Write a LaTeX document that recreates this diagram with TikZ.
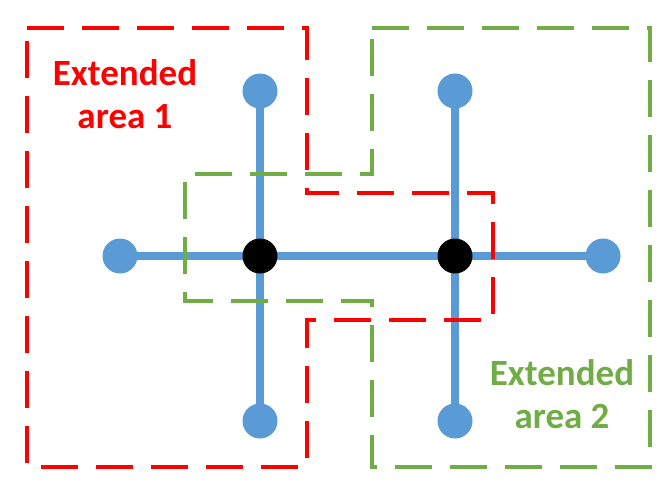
\documentclass[tikz,border=0pt]{standalone}
\usepackage{fontspec}
\setmainfont{Carlito}
\usetikzlibrary{backgrounds}
\definecolor{linkblue}{HTML}{5B9BD5}
\definecolor{areared}{HTML}{FF0000}
\definecolor{areagreen}{HTML}{70AD47}
\tikzset{
  leaf/.style={circle, fill=linkblue, minimum size=35pt, inner sep=0pt},
  hub/.style={circle, fill=black, minimum size=35pt, inner sep=0pt},
  link/.style={draw=linkblue, line width=8pt},
  area/.style={line width=3.5pt, dash pattern=on 37pt off 18pt},
  arealabel/.style={font=\fontsize{37}{43}\selectfont\bfseries, align=center}
}
\begin{document}
\begin{tikzpicture}[x=1pt, y=-1pt]
  \useasboundingbox (0,0) rectangle (666,489);

  % network nodes
  \node[hub]  (h1) at (260,256) {};
  \node[hub]  (h2) at (455,256) {};
  \node[leaf] (l)  at (120,256) {};
  \node[leaf] (r)  at (603,256) {};
  \node[leaf] (t1) at (260,91) {};
  \node[leaf] (t2) at (455,91) {};
  \node[leaf] (b1) at (260,421) {};
  \node[leaf] (b2) at (455,421) {};

  % links behind the nodes
  \begin{scope}[on background layer]
    \draw[link] (l.center) -- (h1.center) -- (h2.center) -- (r.center);
    \draw[link] (t1.center) -- (h1.center) -- (b1.center);
    \draw[link] (t2.center) -- (h2.center) -- (b2.center);
  \end{scope}

  % extended areas
  \draw[area, areared]
    (27,28) -- (307,28) -- (307,193) -- (493,193) -- (493,320)
    -- (307,320) -- (307,467) -- (27,467) -- cycle;
  \draw[area, areagreen]
    (372,28) -- (650,28) -- (650,467) -- (372,467) -- (372,301)
    -- (185,301) -- (185,174) -- (372,174) -- cycle;

  \node[arealabel, text=areared]   (lab1) at (125,94)  {Extended\\area 1};
  \node[arealabel, text=areagreen] (lab2) at (562,394) {Extended\\area 2};
\end{tikzpicture}
\end{document}
